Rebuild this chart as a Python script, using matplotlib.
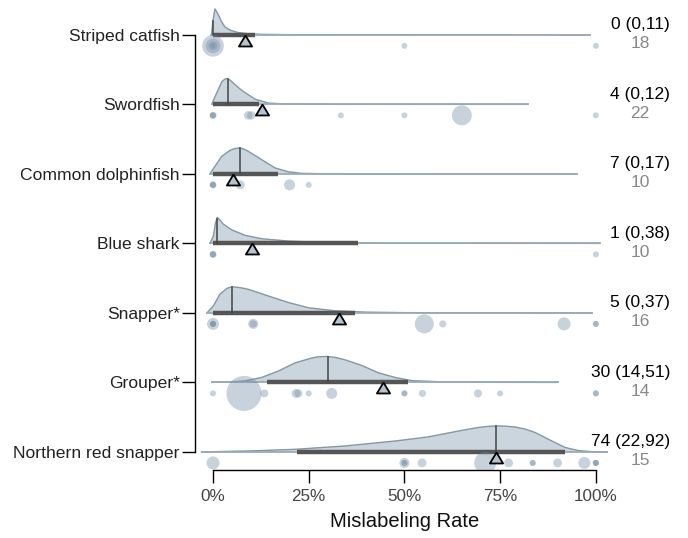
import numpy as np
import matplotlib
matplotlib.use("Agg")
import matplotlib.pyplot as plt
import matplotlib.transforms as mtransforms

plt.rcParams['font.family'] = ['Liberation Sans', 'DejaVu Sans']

species = ['Striped catfish', 'Swordfish', 'Common dolphinfish', 'Blue shark',
           'Snapper*', 'Grouper*', 'Northern red snapper']
medians = [0, 4, 7, 1, 5, 30, 74]
ci_lo = [0, 0, 0, 0, 0, 14, 22]
ci_hi = [11, 12, 17, 38, 37, 51, 92]
obs_mean = [8.4, 12.7, 5.3, 10.1, 33.0, 44.3, 73.9]
n_studies = [18, 22, 10, 10, 16, 14, 15]

# posterior density outline for each species (rate %, relative height)
dens_x = [
    [-0.4, 0.0, 0.5, 1.0, 1.4, 2.2, 3.1, 4.0, 4.9, 6.6, 9, 13, 20, 40, 70, 98.5],
    [-0.3, 0.0, 1.0, 2.3, 3.0, 3.6, 4.5, 5.7, 7.0, 8.4, 11, 14.5, 20, 30, 50, 82.2],
    [-0.8, 0.5, 2.3, 4.4, 5.6, 6.9, 8.0, 9.2, 12.7, 16.2, 19.7, 23.2, 30, 50, 95],
    [-0.8, 0.1, 0.6, 1.1, 1.8, 2.7, 4.9, 8.4, 12.7, 19.7, 30, 45, 70, 101],
    [-1.6, 0.1, 1.8, 3.6, 4.5, 5.5, 7.2, 9.2, 14.5, 19.7, 24.9, 31.9, 40, 50, 65, 99],
    [-0.3, 4, 8.4, 12.7, 17.1, 21.4, 25.8, 27.5, 29.7, 32, 34.5, 38.9, 43.2, 47.6,
     51.9, 60, 70, 90],
    [-3, 10, 21.4, 34.5, 47.6, 56.3, 65, 69.3, 71.5, 74.1, 76.5, 78.9, 81.5, 84.1,
     88.5, 92, 95.5, 99, 103],
]
dens_h = [
    [0, 0.55, 1.0, 0.88, 0.77, 0.52, 0.31, 0.22, 0.16, 0.09, 0.045, 0.02, 0.008,
     0.002, 0.001, 0],
    [0, 0.12, 0.45, 0.87, 0.96, 1.0, 0.93, 0.77, 0.6, 0.45, 0.2, 0.05, 0.01, 0.003,
     0.001, 0],
    [0, 0.29, 0.68, 0.9, 0.97, 1.0, 0.96, 0.87, 0.55, 0.23, 0.08, 0.02, 0.005, 0.001, 0],
    [0, 0.28, 0.75, 1.0, 0.9, 0.74, 0.52, 0.31, 0.18, 0.09, 0.03, 0.01, 0.003, 0],
    [0, 0.27, 0.72, 0.94, 0.99, 1.0, 0.97, 0.91, 0.65, 0.4, 0.2, 0.08, 0.03, 0.01,
     0.003, 0],
    [0, 0.02, 0.06, 0.19, 0.44, 0.75, 0.94, 0.985, 1.0, 0.96, 0.87, 0.65, 0.37, 0.19,
     0.07, 0.02, 0.005, 0],
    [0, 0.04, 0.1, 0.23, 0.42, 0.58, 0.83, 0.94, 0.98, 1.0, 0.99, 0.96, 0.88, 0.75,
     0.42, 0.17, 0.05, 0.01, 0],
]

# individual studies: observed mislabeling rate (%) and sample weight
study_rate = [
    [0, 0, 0, 0, 50, 100],
    [0, 0, 0, 9.2, 10, 33.4, 50, 65, 100],
    [0, 0, 0, 7.1, 20, 25],
    [0, 0, 0, 100],
    [0, 0, 0, 0, 10.5, 10.5, 55.2, 60, 91.7, 100, 100],
    [0, 8.1, 13.4, 21.7, 22.3, 25, 31, 50, 50, 54.7, 69.2, 75, 100, 100],
    [0, 50, 50, 50, 54.6, 71.1, 77.2, 83.5, 83.5, 90, 97, 100, 100, 100],
]
study_n = [
    [13, 6, 2, 0.6, 1, 1],
    [1, 1, 1.4, 2, 2, 1, 1, 11, 1],
    [1, 1, 1.4, 2.2, 3.4, 1],
    [1, 1, 1.4, 1],
    [4, 1, 1, 1, 2.8, 1.5, 10, 1.4, 4.7, 1, 1],
    [1, 34, 1.8, 2.2, 1.8, 1, 3.4, 1, 1, 1.4, 1.8, 1, 1, 1],
    [4.7, 2.8, 1, 1, 2.2, 13.4, 2.2, 1, 1, 2.2, 4, 1, 1, 1],
]

fig = plt.figure(figsize=(6.88, 5.38), dpi=100)
ax = fig.add_axes([195 / 688, 68 / 538, 420 / 688, 465 / 538])

ridge_h = 0.374
pt_off = 0.158

for i in range(len(species)):
    x = np.array(dens_x[i], dtype=float)
    h = np.array(dens_h[i], dtype=float) * ridge_h
    ax.fill_between(x, i, i - h, facecolor='#cbd5dd', edgecolor='none', zorder=2)
    ax.plot(x, i - h, color='#8597a5', lw=1.0, zorder=3)
    ax.plot([x[0], x[-1]], [i, i], color='#9aabb8', lw=1.3, zorder=3)

    # credible interval and median
    ax.plot([ci_lo[i], ci_hi[i]], [i, i], color='#555555', lw=3.2,
            solid_capstyle='butt', zorder=4)
    hm = np.interp(medians[i], x, h)
    ax.plot([medians[i], medians[i]], [i, i - hm], color='#444444', lw=1.1, zorder=4)

    # studies
    ax.scatter(study_rate[i], [i + pt_off] * len(study_rate[i]),
               s=np.array(study_n[i]) * 18.7, color='#6f8ba3', alpha=0.38,
               linewidths=0, zorder=5)

    # observed mean
    ax.plot(obs_mean[i], i, linestyle='none',
            marker=[(0, 0), (-0.6, -1), (0.6, -1), (0, 0)],
            markersize=15.8, markerfacecolor='#b4c3cf', markeredgecolor='black',
            markeredgewidth=1.3, zorder=6)

# estimate and number of studies on the right
tr = mtransforms.blended_transform_factory(fig.transFigure, ax.transData)
for i in range(len(species)):
    ax.text(670 / 688, i - 0.145, f"{medians[i]} ({ci_lo[i]},{ci_hi[i]})",
            transform=tr, ha='right', va='center', fontsize=12.5, color='black')
    ax.text(640 / 688, i + 0.13, str(n_studies[i]), transform=tr,
            ha='center', va='center', fontsize=12.5, color='#888888')

ax.set_xlim(-4.7, 105)
ax.set_ylim(6.26, -0.43)

ax.set_yticks(range(len(species)))
ax.set_yticklabels(species, fontsize=12.6, color='#222222')
ax.set_xticks([0, 25, 50, 75, 100])
ax.set_xticklabels(['0%', '25%', '50%', '75%', '100%'], fontsize=12.3, color='#444444')
ax.set_xlabel('Mislabeling Rate', fontsize=14.5, color='#111111', labelpad=6)

for s in ['top', 'right']:
    ax.spines[s].set_visible(False)
ax.spines['left'].set_bounds(0, 6)
ax.spines['bottom'].set_bounds(0, 100)
for s in ['left', 'bottom']:
    ax.spines[s].set_linewidth(1.0)
    ax.spines[s].set_color('black')
ax.tick_params(axis='both', direction='out', length=9.4, width=1.0, color='black')
ax.tick_params(axis='y', pad=1.5)
ax.tick_params(axis='x', pad=4)

fig.savefig('out.png', dpi=100)
